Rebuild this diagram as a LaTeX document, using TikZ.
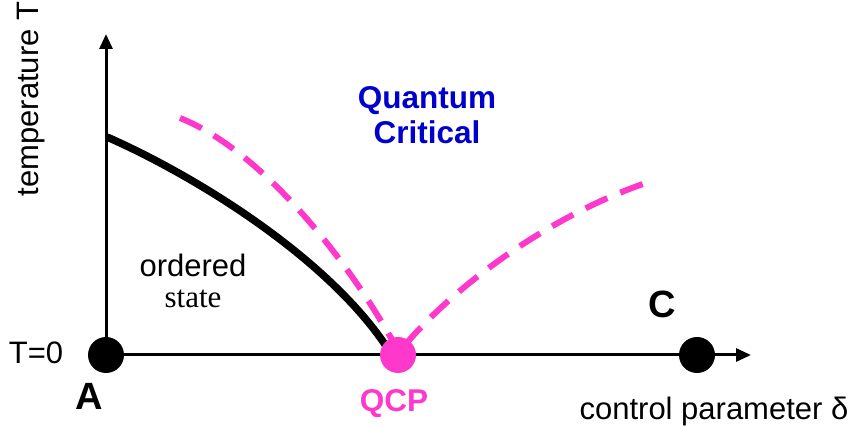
\documentclass[tikz,border=0pt]{standalone}
\usepackage{fontspec}
\setmainfont{Liberation Sans}
\newfontfamily\serifface{Liberation Serif}
\usetikzlibrary{arrows.meta}
\definecolor{qpink}{HTML}{FF38CC}
\definecolor{qblue}{HTML}{0000CC}
\tikzset{
  dotnode/.style={circle,fill=black,inner sep=0pt,minimum size=36pt},
  axisline/.style={line width=3pt,-{Triangle[length=15pt,width=13pt]}},
  lbl/.style={inner sep=0pt,font=\fontsize{31}{35}\selectfont},
  boldlbl/.style={inner sep=0pt,font=\fontsize{31.5}{35}\selectfont\bfseries},
  biglbl/.style={inner sep=0pt,font=\fontsize{38}{40}\selectfont\bfseries},
  dashcurve/.style={qpink,line width=6pt,dash pattern=on 24pt off 14pt},
}
\begin{document}
\begin{tikzpicture}[x=1pt,y=-1pt]
\useasboundingbox (0,0) rectangle (860,427);
% axes
\coordinate (O) at (106,355);
\coordinate (ytop) at (106,34);
\coordinate (xend) at (751,355);
\draw[axisline] (O) -- (ytop);
\draw[axisline] (O) -- (xend);
% curves
\coordinate (tc) at (107,137);
\coordinate (qend) at (388,349);
\draw[line width=7.5pt] (tc) .. controls (200,178) and (330,260) .. (qend);
\coordinate (d1s) at (180,118);
\coordinate (d1e) at (395,345);
\draw[dashcurve] (d1s) .. controls (260,150) and (345,255) .. (d1e);
\coordinate (d2s) at (405,345);
\coordinate (d2e) at (655,180);
\draw[dashcurve] (d2s) .. controls (460,280) and (560,210) .. (d2e);
% dots
\node[dotnode] (A) at (106,355) {};
\node[dotnode,fill=qpink] (Q) at (398,355) {};
\node[dotnode] (C) at (697,355) {};
% labels
\node[lbl,rotate=90] (tlabel) at (31,99) {temperature T};
\node[lbl] (t0) at (36,353) {T=0};
\node[biglbl] (Alab) at (89,396) {A};
\node[biglbl] (Clab) at (662,304) {C};
\node[boldlbl,text=qpink] (qcp) at (394,404) {QCP};
\node[boldlbl,text=qblue,align=center] (qc) at (427,115) {Quantum\\Critical};
\node[lbl] (ord) at (193,265) {ordered};
\node[lbl,font=\fontsize{31}{35}\selectfont\serifface] (st) at (193,299) {state};
\node[lbl] (cp) at (714,411) {control parameter δ};
\end{tikzpicture}
\end{document}
